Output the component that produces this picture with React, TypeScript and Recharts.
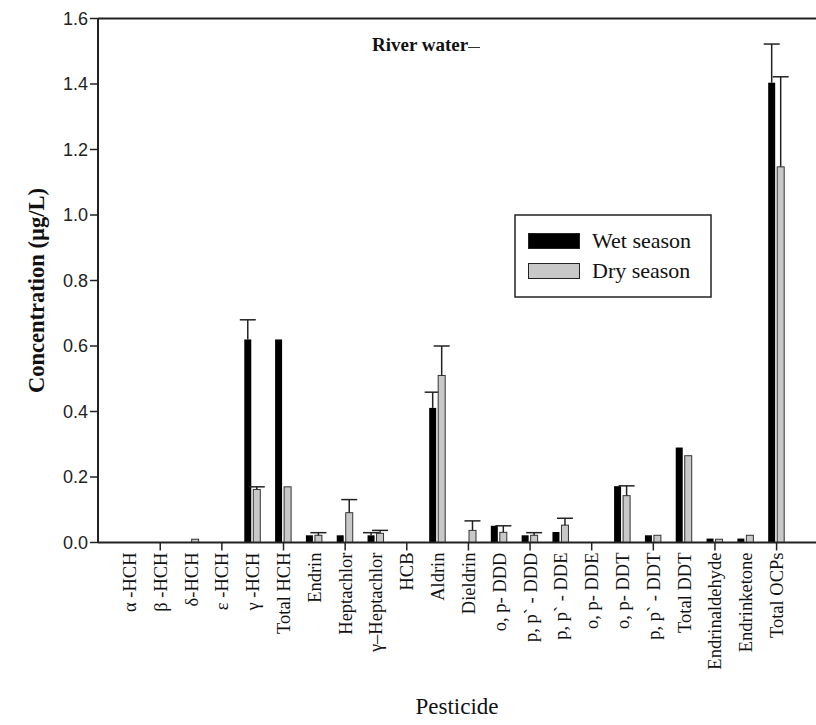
import React from "react";
import { BarChart, Bar, XAxis, YAxis, Legend, ReferenceLine, Label } from "recharts";

const categories = [
  "α -HCH", "β -HCH", "δ-HCH", "ε -HCH", "γ -HCH", "Total HCH", "Endrin", "Heptachlor",
  "γ–Heptachlor", "HCB", "Aldrin", "Dieldrin", "o, p- DDD", "p, p` - DDD", "p, p` - DDE",
  "o, p- DDE", "o, p- DDT", "p, p` - DDT", "Total DDT", "Endrinaldehyde", "Endrinketone", "Total OCPs",
];
const wetSeason = [0, 0, 0, 0, 0.62, 0.62, 0.022, 0.022, 0.022, 0, 0.411, 0, 0.051, 0.022, 0.032, 0, 0.172, 0.022, 0.29, 0.012, 0.012, 1.404];
const drySeason = [0, 0, 0.01, 0, 0.162, 0.17, 0.022, 0.091, 0.028, 0, 0.51, 0.037, 0.031, 0.022, 0.053, 0, 0.143, 0.022, 0.265, 0.01, 0.022, 1.147];
// upper error (one-sided)
const wetError = [0, 0, 0, 0, 0.06, 0, 0, 0, 0.008, 0, 0.048, 0, 0, 0, 0, 0, 0, 0, 0, 0, 0, 0.118];
const dryError = [0, 0, 0, 0, 0.008, 0, 0.008, 0.04, 0.009, 0, 0.09, 0.029, 0.02, 0.008, 0.021, 0, 0.03, 0, 0, 0, 0, 0.275];
const yTicks = [0, 0.2, 0.4, 0.6, 0.8, 1.0, 1.2, 1.4, 1.6];
const seriesOrder = ["Wet season", "Dry season"];

const data = categories.map((name, i) => ({
  name,
  wet: wetSeason[i],
  dry: drySeason[i],
  wetErr: wetError[i],
  dryErr: dryError[i],
}));

const serif = "'Liberation Serif', 'Times New Roman', serif";
const sans = "'Liberation Sans', Arial, sans-serif";

const barWithError = (valKey: string, errKey: string) => (p: any) => {
  const { x, y, width, height, fill, stroke, payload } = p;
  if (!height || height <= 0) return null;
  const v = payload[valKey];
  const e = payload[errKey];
  const cx = x + width / 2;
  const ey = v > 0 && e > 0 ? y - (e * height) / v : null;
  return (
    <g>
      <rect x={x} y={y} width={width} height={height} fill={fill} stroke={stroke} strokeWidth={stroke ? 1 : 0} />
      {ey !== null && (
        <g stroke="#222" strokeWidth={1.5}>
          <line x1={cx} x2={cx} y1={y} y2={ey} />
          <line x1={cx - 8} x2={cx + 8} y1={ey} y2={ey} />
        </g>
      )}
    </g>
  );
};

const CategoryTick = (props: any) => {
  const { x, y, payload, index } = props;
  return (
    <g>
      {index % 2 === 1 && <line x1={x} x2={x} y1={y - 10} y2={y - 2} stroke="#222" strokeWidth={1.5} />}
      <text
        x={x}
        y={y}
        dy="0.35em"
        textAnchor="end"
        transform={`rotate(-90, ${x}, ${y})`}
        fontFamily={serif}
        fontSize={18.5}
        fill="#111"
      >
        {payload.value}
      </text>
    </g>
  );
};

// legend drawn as svg so the serif font matches the axis text
const LegendBox = (props: any) => {
  const items = [...(props.payload || [])].sort(
    (a: any, b: any) => seriesOrder.indexOf(a.value) - seriesOrder.indexOf(b.value)
  );
  return (
    <svg width={198} height={84} style={{ display: "block" }}>
      <rect x={1} y={1} width={196} height={82} fill="#fff" stroke="#222" strokeWidth={1.5} />
      {items.map((it: any, i: number) => (
        <g key={it.value}>
          <rect x={14.5} y={19.5 + i * 30} width={51} height={15} fill={it.color} stroke="#222" strokeWidth={1} />
          <text x={78} y={34 + i * 30} fontFamily={serif} fontSize={22} fill="#111">
            {it.value}
          </text>
        </g>
      ))}
    </svg>
  );
};

export default function App() {
  return (
    <div style={{ position: "absolute", left: 0, top: 0, width: 816, height: 725, background: "#fff" }}>
      <BarChart
        width={816}
        height={725}
        data={data}
        margin={{ top: 18.5, right: 0, left: 0, bottom: 0 }}
        barSize={7}
        barGap={2}
      >
        <XAxis
          dataKey="name"
          interval={0}
          height={182.5}
          tick={<CategoryTick />}
          tickLine={false}
          tickSize={8}
          tickMargin={2}
          axisLine={{ stroke: "#222", strokeWidth: 2 }}
          padding={{ left: 16, right: 24 }}
        >
          <Label
            value="Pesticide"
            position="insideBottom"
            offset={11}
            style={{ fontFamily: serif, fontSize: 23, fill: "#111" }}
          />
        </XAxis>
        <YAxis
          width={98}
          domain={[0, 1.6]}
          ticks={yTicks}
          tickFormatter={(v: number) => v.toFixed(1)}
          tickSize={8}
          tickMargin={2}
          tick={{ fontFamily: sans, fontSize: 18, fill: "#222" }}
          tickLine={{ stroke: "#222", strokeWidth: 1.5 }}
          axisLine={{ stroke: "#222", strokeWidth: 2 }}
        >
          <Label
            content={({ viewBox }: any) => {
              const cx = 36;
              const cy = viewBox.y + viewBox.height / 2 + 10;
              return (
                <text
                  x={cx}
                  y={cy}
                  transform={`rotate(-90, ${cx}, ${cy})`}
                  textAnchor="middle"
                  dominantBaseline="central"
                  fontFamily={serif}
                  fontWeight="bold"
                  fontSize={22.5}
                  fill="#111"
                >
                  Concentration (µg/L)
                </text>
              );
            }}
          />
        </YAxis>
        <ReferenceLine y={1.6} stroke="#222" strokeWidth={2} />
        <Legend
          content={<LegendBox />}
          layout="horizontal"
          verticalAlign="middle"
          align="center"
          wrapperStyle={{ position: "absolute", left: 514, top: 214, width: 198, height: 84 }}
        />
        <Bar dataKey="wet" name="Wet season" fill="#000" isAnimationActive={false} shape={barWithError("wet", "wetErr")} />
        <Bar dataKey="dry" name="Dry season" fill="#c8c8c8" stroke="#333" isAnimationActive={false} shape={barWithError("dry", "dryErr")} />
      </BarChart>
      <div
        style={{
          position: "absolute",
          left: 372,
          top: 34,
          display: "flex",
          alignItems: "center",
          fontFamily: serif,
          fontWeight: "bold",
          fontSize: 19,
          color: "#111",
          whiteSpace: "nowrap",
        }}
      >
        <span>River water</span>
        <span style={{ display: "inline-block", width: 12, height: 0, borderTop: "1.5px solid #333", marginTop: 4 }} />
      </div>
    </div>
  );
}
